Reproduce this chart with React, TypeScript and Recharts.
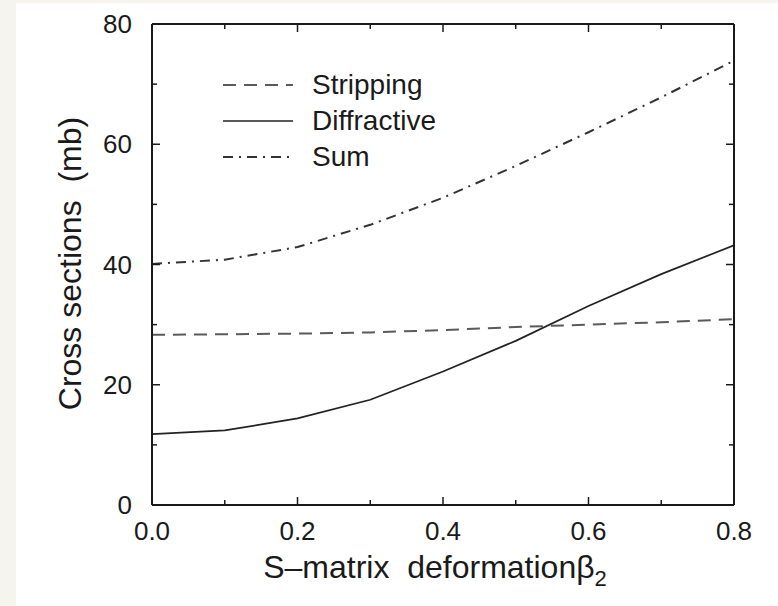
import React from 'react';
import { LineChart, Line, XAxis, YAxis, Legend } from 'recharts';

// beta_2 values along the x axis
const BETA = [0, 0.1, 0.2, 0.3, 0.4, 0.5, 0.6, 0.7, 0.8];
// cross sections in mb
const STRIPPING = [28.3, 28.4, 28.5, 28.7, 29.1, 29.6, 30.0, 30.4, 30.9];
const DIFFRACTIVE = [11.8, 12.4, 14.4, 17.5, 22.2, 27.3, 33.1, 38.4, 43.2];
const SUM = [40.1, 40.8, 42.9, 46.6, 51.1, 56.4, 62.0, 67.8, 73.9];

const X_TICKS = [0, 0.1, 0.2, 0.3, 0.4, 0.5, 0.6, 0.7, 0.8];
const Y_TICKS = [0, 10, 20, 30, 40, 50, 60, 70, 80];
const LEGEND_ORDER = ['stripping', 'diffractive', 'sum'];

const data = BETA.map((b, i) => ({
  beta: b,
  stripping: STRIPPING[i],
  diffractive: DIFFRACTIVE[i],
  sum: SUM[i],
}));

const INK = '#1a1a1a';
const FONT = '"Liberation Sans", Arial, Helvetica, sans-serif';
const MAJOR = 8;
const MINOR = 5;

const STYLES: Record<string, { color: string; width: number; dash?: string }> = {
  stripping: { color: '#5a5a5a', width: 2, dash: '13 8' },
  diffractive: { color: '#222', width: 1.7 },
  sum: { color: '#333', width: 2, dash: '10 6 2 6' },
};

const isMajorX = (v: number) => Math.round(v * 10) % 2 === 0;
const isMajorY = (v: number) => v % 20 === 0;

function BottomTick({ x, y, payload }: any) {
  const v = payload.value;
  const major = isMajorX(v);
  return (
    <g>
      <line x1={x} x2={x} y1={y} y2={y - (major ? MAJOR : MINOR)} stroke={INK} strokeWidth={1.5} />
      {major && (
        <text x={x} y={y + 35} textAnchor="middle" fontSize={26} fill={INK} fontFamily={FONT}>
          {v.toFixed(1)}
        </text>
      )}
    </g>
  );
}

function TopTick({ x, y, payload }: any) {
  const major = isMajorX(payload.value);
  return <line x1={x} x2={x} y1={y} y2={y + (major ? MAJOR : MINOR)} stroke={INK} strokeWidth={1.5} />;
}

function LeftTick({ x, y, payload }: any) {
  const v = payload.value;
  const major = isMajorY(v);
  return (
    <g>
      <line x1={x} x2={x + (major ? MAJOR : MINOR)} y1={y} y2={y} stroke={INK} strokeWidth={1.5} />
      {major && (
        <text x={x - 20} y={y + 9} textAnchor="end" fontSize={26} fill={INK} fontFamily={FONT}>
          {v}
        </text>
      )}
    </g>
  );
}

function RightTick({ x, y, payload }: any) {
  const major = isMajorY(payload.value);
  return <line x1={x} x2={x - (major ? MAJOR : MINOR)} y1={y} y2={y} stroke={INK} strokeWidth={1.5} />;
}

function XTitle({ viewBox }: any) {
  const cx = viewBox.x + viewBox.width / 2 - 8;
  return (
    <text x={cx} y={viewBox.y + 73} textAnchor="middle" fontSize={32} fill={INK} fontFamily={FONT} style={{ whiteSpace: 'pre' }}>
      {'S\u2013matrix  deformation'}
      <tspan>β</tspan>
      <tspan fontSize={22} dy={8}>2</tspan>
    </text>
  );
}

function YTitle({ viewBox }: any) {
  const cx = viewBox.x - 2;
  const cy = viewBox.y + viewBox.height / 2 - 1;
  return (
    <text
      x={cx}
      y={cy}
      dy="0.35em"
      textAnchor="middle"
      fontSize={32}
      fill={INK}
      fontFamily={FONT}
      transform={`rotate(-90 ${cx} ${cy})`}
      style={{ whiteSpace: 'pre' }}
    >
      {'Cross sections  (mb)'}
    </text>
  );
}

function LegendBox({ payload }: any) {
  const items = [...(payload || [])].sort(
    (a: any, b: any) => LEGEND_ORDER.indexOf(a.dataKey) - LEGEND_ORDER.indexOf(b.dataKey)
  );
  return (
    <div style={{ fontFamily: FONT, fontSize: 28, color: INK }}>
      {items.map((p: any) => {
        const s = STYLES[p.dataKey];
        return (
          <div key={p.dataKey} style={{ display: 'flex', alignItems: 'center', height: 36 }}>
            <svg width={70} height={10}>
              <line x1={0} x2={70} y1={5} y2={5} stroke={s.color} strokeWidth={s.width} strokeDasharray={s.dash} />
            </svg>
            <span style={{ marginLeft: 19, lineHeight: '36px' }}>{p.value}</span>
          </div>
        );
      })}
    </div>
  );
}

export default function App() {
  return (
    <div style={{ position: 'absolute', left: 0, top: 0, width: 778, height: 606, background: '#f5f5ee' }}>
      <div style={{ position: 'absolute', left: 16, top: 3, width: 762, height: 603, background: '#fff' }}>
        <LineChart width={762} height={603} data={data} margin={{ top: 21, right: 44, bottom: 21, left: 56 }}>
          <XAxis
            dataKey="beta"
            type="number"
            domain={[0, 0.8]}
            ticks={X_TICKS}
            allowDataOverflow
            height={80}
            tickSize={0}
            tickMargin={0}
            tickLine={false}
            tick={<BottomTick />}
            axisLine={{ stroke: INK, strokeWidth: 2 }}
            label={<XTitle />}
          />
          <XAxis
            xAxisId="top"
            orientation="top"
            type="number"
            dataKey="beta"
            domain={[0, 0.8]}
            ticks={X_TICKS}
            allowDataOverflow
            mirror
            tickSize={0}
            tickMargin={0}
            tickLine={false}
            tick={<TopTick />}
            axisLine={{ stroke: INK, strokeWidth: 2 }}
          />
          <YAxis
            type="number"
            domain={[0, 80]}
            ticks={Y_TICKS}
            allowDataOverflow
            width={80}
            tickSize={0}
            tickMargin={0}
            tickLine={false}
            tick={<LeftTick />}
            axisLine={{ stroke: INK, strokeWidth: 2 }}
            label={<YTitle />}
          />
          <YAxis
            yAxisId="right"
            orientation="right"
            type="number"
            domain={[0, 80]}
            ticks={Y_TICKS}
            allowDataOverflow
            mirror
            tickSize={0}
            tickMargin={0}
            tickLine={false}
            tick={<RightTick />}
            axisLine={{ stroke: INK, strokeWidth: 2 }}
          />
          <Legend
            layout="vertical"
            align="center"
            verticalAlign="middle"
            content={<LegendBox />}
            wrapperStyle={{ position: 'absolute', left: 207, top: 64, width: 'auto', height: 'auto' }}
          />
          <Line
            dataKey="stripping"
            name="Stripping"
            type="linear"
            stroke={STYLES.stripping.color}
            strokeWidth={STYLES.stripping.width}
            strokeDasharray={STYLES.stripping.dash}
            dot={false}
            activeDot={false}
            isAnimationActive={false}
          />
          <Line
            dataKey="diffractive"
            name="Diffractive"
            type="linear"
            stroke={STYLES.diffractive.color}
            strokeWidth={STYLES.diffractive.width}
            dot={false}
            activeDot={false}
            isAnimationActive={false}
          />
          <Line
            dataKey="sum"
            name="Sum"
            type="linear"
            stroke={STYLES.sum.color}
            strokeWidth={STYLES.sum.width}
            strokeDasharray={STYLES.sum.dash}
            dot={false}
            activeDot={false}
            isAnimationActive={false}
          />
        </LineChart>
      </div>
    </div>
  );
}
